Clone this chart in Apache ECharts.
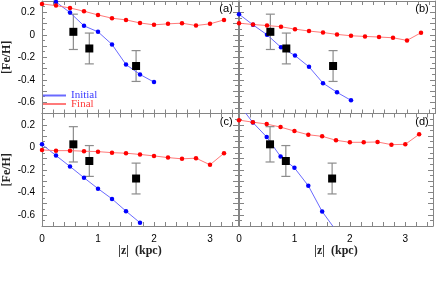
<!DOCTYPE html>
<html>
<head>
<meta charset="utf-8">
<script src="https://cdn.jsdelivr.net/npm/echarts@6/dist/echarts.min.js"></script>
<style>
  html, body { margin: 0; padding: 0; background: #fff; }
  #main { width: 436px; height: 296px; }
</style>
</head>
<body>
<div id="main"></div>
<script>
// |z| grid of the model profiles (kpc)
var zKpc = [0, 0.25, 0.5, 0.75, 1, 1.25, 1.5, 1.75, 2, 2.25, 2.5, 2.75, 3, 3.25];

// [Fe/H] profiles, one pair per panel
var initialA = [0.385, 0.291, 0.197, 0.079, 0.026, -0.086, -0.265, -0.353, -0.421];
var finalA = [0.274, 0.259, 0.238, 0.209, 0.176, 0.147, 0.132, 0.105, 0.088, 0.097, 0.103, 0.082, 0.097, 0.132];
var initialB = [0.183, 0.088, 0.0, -0.112, -0.185, -0.285, -0.430, -0.512, -0.583];
var finalB = [0.103, 0.091, 0.082, 0.071, 0.050, 0.033, 0.020, 0.003, -0.009, -0.015, -0.020, -0.027, -0.050, 0.018];
var initialC = [0.026, -0.074, -0.171, -0.271, -0.368, -0.459, -0.568, -0.671];
var finalC = [-0.024, -0.030, -0.030, -0.035, -0.039, -0.048, -0.053, -0.064, -0.077, -0.092, -0.103, -0.097, -0.156, -0.053];
var initialD = [0.38, 0.22, 0.091, -0.083, -0.183, -0.342, -0.571, -0.74];
var finalD = [0.241, 0.223, 0.206, 0.179, 0.144, 0.111, 0.097, 0.062, 0.044, 0.044, 0.047, 0.023, 0.026, 0.115];

// observed points with error bars (same in every panel)
var obsZ = [0.56, 0.845, 1.68];
var obsFeH = [0.026, -0.122, -0.278];
var obsErr = [0.157, 0.137, 0.137];

var panelTags = ['(a)', '(b)', '(c)', '(d)'];
var initials = [initialA, initialB, initialC, initialD];
var finals = [finalA, finalB, finalC, finalD];

var frame = '#858585';
var blueLine = '#6a6aff', redLine = '#ff7a7a';
var sans = 'Liberation Sans';
var serif = 'Liberation Serif';

function pairs(vals) {
  return vals.map(function (v, k) { return [zKpc[k], v]; });
}

var grids = [
  { left: 42, top: 1, width: 196, height: 112.5 },
  { left: 239, top: 1, width: 196, height: 112.5 },
  { left: 42, top: 113.5, width: 196, height: 112.5 },
  { left: 239, top: 113.5, width: 196, height: 112.5 }
];

var xAxes = [], yAxes = [];
grids.forEach(function (g, i) {
  var bottomRow = i >= 2, leftCol = i % 2 === 0;
  ['bottom', 'top'].forEach(function (pos) {
    var showLab = pos === 'bottom' && bottomRow;
    xAxes.push({
      type: 'value', gridIndex: i, position: pos, min: 0, max: 3.5, interval: 0.2,
      axisLine: { show: true, onZero: false, lineStyle: { color: frame, width: 1 } },
      axisTick: { show: true, inside: true, length: 4, lineStyle: { color: frame } },
      splitLine: { show: false },
      axisLabel: {
        show: showLab, margin: 8, color: '#000', fontFamily: sans, fontSize: 10,
        formatter: function (v) { return Math.abs(v - Math.round(v)) < 1e-6 ? String(Math.round(v)) : ''; }
      },
      name: showLab ? '|z|  (kpc)' : '', nameLocation: 'middle', nameGap: 19,
      nameTextStyle: { fontFamily: serif, fontSize: 12, fontWeight: 'bold', color: '#222' }
    });
  });
  ['left', 'right'].forEach(function (pos) {
    var showLab = pos === 'left' && leftCol;
    yAxes.push({
      type: 'value', gridIndex: i, position: pos, min: -0.7, max: 0.3, interval: 0.1,
      axisLine: { show: true, onZero: false, lineStyle: { color: frame, width: 1 } },
      axisTick: { show: true, inside: true, length: 5, lineStyle: { color: frame } },
      minorTick: { show: true, splitNumber: 2, length: 3, lineStyle: { color: frame } },
      splitLine: { show: false },
      axisLabel: {
        show: showLab, margin: 7, color: '#000', fontFamily: sans, fontSize: 10,
        formatter: function (v) {
          var t = Math.round(v * 10);
          if (t % 2 !== 0) return '';
          return t === 0 ? '0' : (t / 10).toFixed(1);
        }
      },
      name: showLab ? '[Fe/H]' : '', nameLocation: 'middle', nameGap: 29, nameRotate: 90,
      nameTextStyle: { fontFamily: serif, fontSize: 12, fontWeight: 'bold', color: '#222' }
    });
  });
});

var series = [];
grids.forEach(function (g, i) {
  series.push({
    name: 'Initial', type: 'line', xAxisIndex: 2 * i, yAxisIndex: 2 * i,
    data: pairs(initials[i]), symbol: 'circle', symbolSize: 4.5, clip: true,
    itemStyle: { color: '#0000ff' }, lineStyle: { color: blueLine, width: 1 }
  });
  series.push({
    name: 'Final', type: 'line', xAxisIndex: 2 * i, yAxisIndex: 2 * i,
    data: pairs(finals[i]), symbol: 'circle', symbolSize: 4.5, clip: true,
    itemStyle: { color: '#ff0000' }, lineStyle: { color: redLine, width: 1 }
  });
  series.push({
    type: 'custom', xAxisIndex: 2 * i, yAxisIndex: 2 * i,
    data: obsZ.map(function (z, k) { return [z, obsFeH[k], obsErr[k]]; }),
    renderItem: function (params, api) {
      var x = api.value(0), y = api.value(1), e = api.value(2);
      var hi = api.coord([x, y + e]), lo = api.coord([x, y - e]);
      var c = 4.5, st = { stroke: '#8c8c8c', lineWidth: 1.2 };
      return {
        type: 'group', children: [
          { type: 'line', shape: { x1: hi[0], y1: hi[1], x2: lo[0], y2: lo[1] }, style: st },
          { type: 'line', shape: { x1: hi[0] - c, y1: hi[1], x2: hi[0] + c, y2: hi[1] }, style: st },
          { type: 'line', shape: { x1: lo[0] - c, y1: lo[1], x2: lo[0] + c, y2: lo[1] }, style: st }
        ]
      };
    }
  });
  series.push({
    type: 'scatter', xAxisIndex: 2 * i, yAxisIndex: 2 * i,
    data: obsZ.map(function (z, k) { return [z, obsFeH[k]]; }),
    symbol: 'rect', symbolSize: 8, itemStyle: { color: '#000', opacity: 1 }, z: 5
  });
});

var tagSpots = [[232.7, 9], [428.7, 9], [232.7, 121.5], [428.7, 121.5]];
var graphic = tagSpots.map(function (p, i) {
  return {
    type: 'text', x: p[0], y: p[1], z: 10,
    style: { text: panelTags[i], align: 'right', verticalAlign: 'middle', font: '11px ' + sans, fill: '#000' }
  };
});

function legendFor(name, top, lineCol, textCol) {
  return {
    left: 43, top: top, padding: 0, itemWidth: 23, itemHeight: 2, itemGap: 4,
    selectedMode: false,
    icon: 'rect',
    itemStyle: { color: lineCol, borderWidth: 0 },
    textStyle: { fontFamily: serif, fontSize: 11, color: textCol },
    data: [{ name: name, icon: 'rect', itemStyle: { color: lineCol, borderWidth: 0 } }]
  };
}

var chart = echarts.init(document.getElementById('main'));
chart.setOption({
  animation: false,
  backgroundColor: '#fff',
  grid: grids,
  xAxis: xAxes,
  yAxis: yAxes,
  legend: [
    legendFor('Initial', 90, blueLine, '#3a3aff'),
    legendFor('Final', 98.5, redLine, '#ff3a3a')
  ],
  graphic: graphic,
  series: series
});
</script>
</body>
</html>
